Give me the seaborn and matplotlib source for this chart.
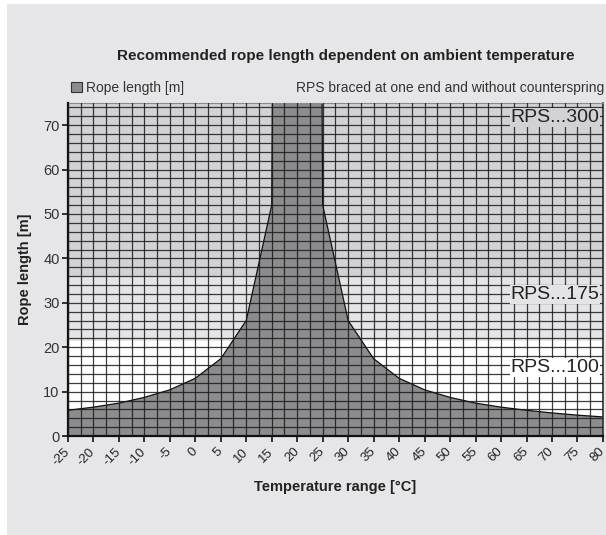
import numpy as np
import pandas as pd
import seaborn as sns
import matplotlib.pyplot as plt
import matplotlib.transforms as mtransforms
from matplotlib import font_manager
from matplotlib.patches import Rectangle, Patch

# chart data
temps = [-25, -20, -15, -10, -5, 0, 5, 10, 15, 20, 25, 30, 35, 40, 45, 50, 55, 60, 65, 70, 75, 80]
rope_len = [5.8, 6.5, 7.4, 8.7, 10.4, 13.0, 17.4, 26.0, 52.0, 1000.0, 52.0, 26.0, 17.4, 13.0,
            10.4, 8.7, 7.4, 6.5, 5.8, 5.2, 4.7, 4.3]
bands = [(0, 21.5, '#ffffff'), (21.5, 36, '#e4e4e6'), (36, 75, '#d2d2d4')]
band_labels = ['RPS...100', 'RPS...175', 'RPS...300']
band_label_y = [15.5, 31.8, 71.8]

df = pd.DataFrame({'temp': temps, 'length': rope_len})

sns.set_theme(style='white')
names = {f.name for f in font_manager.fontManager.ttflist}
fam = 'Liberation Sans Narrow' if 'Liberation Sans Narrow' in names else 'Liberation Sans'
plt.rcParams['font.family'] = [fam, 'DejaVu Sans']

fig = plt.figure(figsize=(6.06, 5.35), dpi=100)
fig.patch.set_facecolor('white')
fig.patches.append(Rectangle((7 / 606, 0), 1, 1 - 4 / 535, transform=fig.transFigure,
                             facecolor='#e6e6e8', edgecolor='none', zorder=-10))
ax = fig.add_axes([0.112, 0.185, 0.883, 0.6225])

# background bands
for (lo, hi, c) in bands:
    ax.axhspan(lo, hi, color=c, zorder=0, lw=0)

ax.fill_between(df['temp'], 0, df['length'], color='#8c8c8e', zorder=1, lw=0)
sns.lineplot(data=df, x='temp', y='length', color='#111111', lw=0.9, ax=ax, zorder=2)

ax.set_xlim(-25, 80)
ax.set_ylim(0, 75)
ax.set_xticks(temps)
ax.set_xticklabels([str(t) for t in temps], rotation=45, ha='right', va='center',
                   rotation_mode='anchor', fontsize=9.5, color='#222222')
shift = mtransforms.ScaledTranslation(-3 / 100, 0, fig.dpi_scale_trans)
for lab in ax.get_xticklabels():
    lab.set_transform(lab.get_transform() + shift)
ax.set_yticks(range(0, 80, 10))
ax.set_yticklabels([str(v) for v in range(0, 80, 10)], fontsize=10.5, color='#333333')
ax.set_xticks(np.arange(-25, 80.1, 2.5), minor=True)
ax.set_yticks(range(0, 76, 2), minor=True)
ax.tick_params(axis='both', which='major', length=4, width=1.2, color='#111111', direction='out',
               bottom=True, left=True, pad=2)
ax.tick_params(axis='x', which='major', pad=6)
ax.tick_params(axis='both', which='minor', length=0)
ax.set_axisbelow(False)
ax.grid(True, which='both', color='#1a1a1a', lw=0.9, alpha=0.85)

for s in ['left', 'bottom']:
    ax.spines[s].set_color('#111111')
    ax.spines[s].set_linewidth(1.6)
ax.spines['right'].set_color('#333333')
ax.spines['right'].set_linewidth(1.2)
ax.spines['top'].set_color('#888888')
ax.spines['top'].set_linewidth(0.8)

for (lo, hi, c), lab, yv in zip(bands, band_labels, band_label_y):
    ax.text(79.3, yv, lab, ha='right', va='center', fontsize=14, color='#222222', zorder=5,
            bbox=dict(boxstyle='square,pad=0.05', facecolor=c, edgecolor='none'))

ax.set_xlabel('Temperature range [°C]', fontsize=10.5, fontweight='bold', color='#222222', labelpad=9)
ax.set_ylabel('Rope length [m]', fontsize=10.5, fontweight='bold', color='#222222', labelpad=8)

fig.text(0.571, 0.895, 'Recommended rope length dependent on ambient temperature', ha='center', va='center',
         fontsize=11, fontweight='bold', color='#222222')
fig.text(0.997, 0.835, 'RPS braced at one end and without counterspring', ha='right', va='center',
         fontsize=10, color='#333333')
ax.legend(handles=[Patch(facecolor='#8c8c8e', edgecolor='#333333', lw=0.8, label='Rope length [m]')],
          loc='lower left', bbox_to_anchor=(-0.012, 0.995), frameon=False, fontsize=10,
          handlelength=0.8, handleheight=0.8, handletextpad=0.3, borderpad=0.2, labelcolor='#333333')

fig.savefig('out.png', dpi=100)
